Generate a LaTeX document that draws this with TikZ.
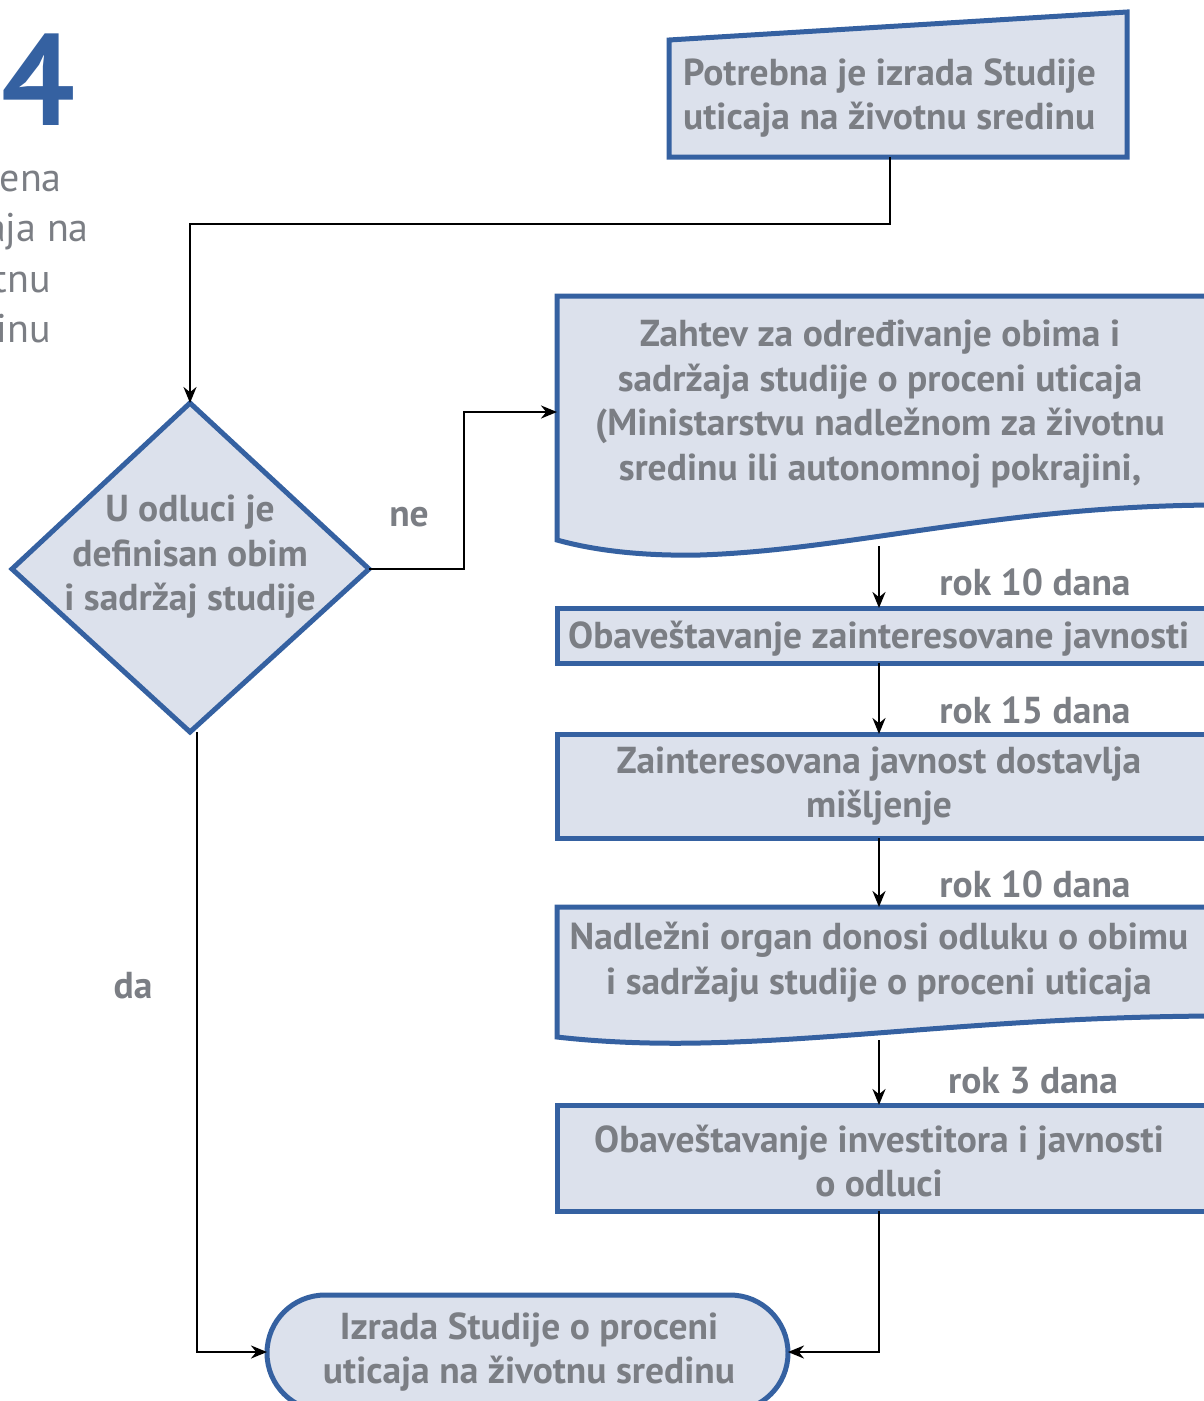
\documentclass[tikz,border=0pt]{standalone}
\usepackage{fontspec}
\setmainfont{PT Sans}
\usetikzlibrary{arrows.meta,shapes.geometric}
\definecolor{txtgray}{HTML}{7B7E84}
\definecolor{boxfill}{HTML}{DCE1EC}
\definecolor{boxblue}{HTML}{3561A1}
\tikzset{
  shapeline/.style={draw=boxblue,line width=5pt,fill=boxfill,line join=miter},
  txt/.style={text=txtgray,font=\fontsize{37.5}{44.5}\selectfont\bfseries,inner sep=0pt,align=center,yshift=-3pt},
  lbl/.style={txt,yshift=3pt},
  sidetxt/.style={anchor=base east,text=txtgray,font=\fontsize{40}{50}\selectfont,inner sep=0pt},
  conn/.style={draw=black,line width=2.5pt},
  arr/.style={conn,-{Stealth[length=16pt,width=13pt]}},
}
\begin{document}
\begin{tikzpicture}[x=1pt,y=-1pt]
\useasboundingbox (0,0) rectangle (1204,1401);
\clip (0,0) rectangle (1204,1401);
% left panel remnants
\node[anchor=east,text=boxblue,font=\fontsize{130}{130}\selectfont\bfseries,inner sep=0pt] (four) at (75,80) {4};
\node[sidetxt] (l1) at (62,191) {Procena};
\node[sidetxt] (l2) at (89,241) {uticaja na};
\node[sidetxt] (l3) at (51,292) {životnu};
\node[sidetxt] (l4) at (51,342) {sredinu};

% manual input
\path[shapeline] (669,157) -- (669,40) -- (1127,12) -- (1127,157) -- cycle;
\node[txt,align=left,anchor=west] (start) at (683,95) {Potrebna je izrada Studije\\uticaja na životnu sredinu};
\coordinate (startb) at (890,157);

% decision
\path[shapeline] (190,403) -- (369,569) -- (190,732) -- (12,569) -- cycle;
\coordinate (dtop) at (190,403);
\coordinate (dright) at (369,569);
\coordinate (dbot) at (197,732);
\node[txt] (dec) at (190,554) {U odluci je\\definisan obim\\i sadržaj studije};

% document 1
\path[shapeline] (557,296) -- (1215,296) -- (1215,505) .. controls (1000,506) and (850,550) .. (700,555) .. controls (650,556) and (600,552) .. (557,540) -- cycle;
\node[txt] (doc1) at (880,401) {Zahtev za određivanje obima i\\sadržaja studije o proceni uticaja\\(Ministarstvu nadležnom za životnu\\sredinu ili autonomnoj pokrajini,};
\coordinate (doc1l) at (557,412);
\coordinate (doc1b) at (879,546);

% box 2
\path[shapeline] (557,608) rectangle (1215,663);
\node[txt,anchor=west] (b2) at (568,636) {Obaveštavanje zainteresovane javnosti};
\coordinate (b2t) at (879,608);
\coordinate (b2b) at (879,663);

% box 3
\path[shapeline] (557,734) rectangle (1215,838);
\node[txt] (b3) at (879,783) {Zainteresovana javnost dostavlja\\mišljenje};
\coordinate (b3t) at (879,734);
\coordinate (b3b) at (879,838);

% document 2
\path[shapeline] (557,907) -- (1215,907) -- (1215,1016) .. controls (1000,1017) and (850,1040) .. (700,1043) .. controls (650,1044) and (600,1042) .. (557,1037) -- cycle;
\node[txt] (doc2) at (879,959) {Nadležni organ donosi odluku o obimu\\i sadržaju studije o proceni uticaja};
\coordinate (doc2t) at (879,907);
\coordinate (doc2b) at (879,1040);

% box 4
\path[shapeline] (557,1105) rectangle (1215,1211);
\node[txt] (b4) at (879,1158) {Obaveštavanje investitora i javnosti\\o odluci};
\coordinate (b4t) at (879,1105);
\coordinate (b4b) at (879,1211);

% terminal
\path[shapeline] (325,1295) -- (730,1295) arc[start angle=90,end angle=-90,x radius=58,y radius=-58] -- (325,1411) arc[start angle=270,end angle=90,x radius=58,y radius=-58] -- cycle;
\node[txt] (term) at (529,1349) {Izrada Studije o proceni\\uticaja na životnu sredinu};
\coordinate (terml) at (267,1352);
\coordinate (termr) at (788,1352);

% connectors
\draw[arr] (startb) -- (890,224) -- (190,224) -- (dtop);
\draw[arr] (dright) -- (464,569) -- (464,412) -- (doc1l);
\draw[arr] (doc1b) -- (b2t);
\draw[arr] (b2b) -- (b3t);
\draw[arr] (b3b) -- (doc2t);
\draw[arr] (doc2b) -- (b4t);
\draw[arr] (b4b) -- (879,1352) -- (termr);
\draw[arr] (dbot) -- (197,1352) -- (terml);

% labels
\node[lbl] (ne) at (409,517) {ne};
\node[lbl] (da) at (133,986) {da};
\node[lbl] (r1) at (1035,582) {rok 10 dana};
\node[lbl] (r2) at (1035,710) {rok 15 dana};
\node[lbl] (r3) at (1035,884) {rok 10 dana};
\node[lbl] (r4) at (1033,1081) {rok 3 dana};
\end{tikzpicture}
\end{document}
